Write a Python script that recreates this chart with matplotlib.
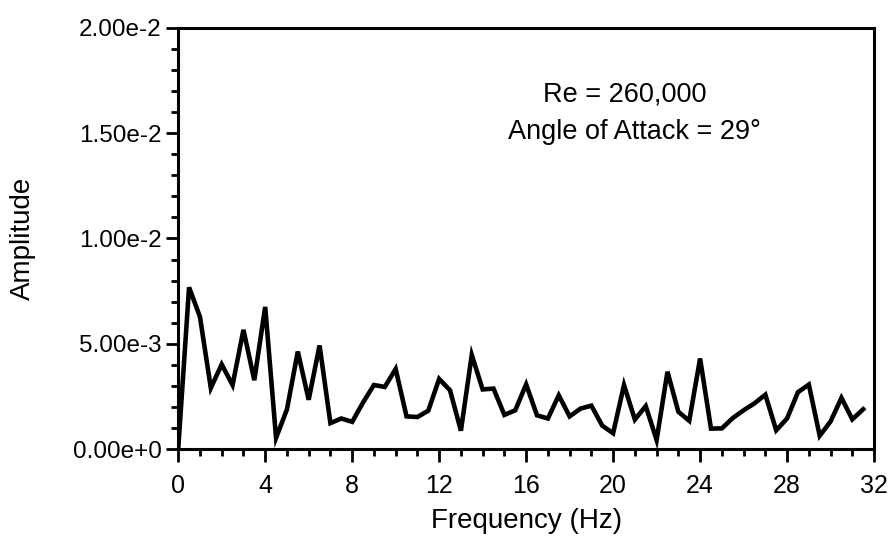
import numpy as np
import matplotlib
matplotlib.use("Agg")
import matplotlib.pyplot as plt
from matplotlib.ticker import MultipleLocator, FuncFormatter

plt.rcParams['font.family'] = ['Liberation Sans', 'DejaVu Sans']

# spectrum, 0.5 Hz bins (amplitude in units of 1e-3)
freq_step = 0.5
amp_e3 = [0.0, 7.68, 6.28, 2.90, 4.02, 3.04, 5.66, 3.27, 6.75, 0.53,
          1.88, 4.63, 2.34, 4.92, 1.23, 1.45, 1.29, 2.21, 3.04, 2.95,
          3.80, 1.55, 1.52, 1.82, 3.33, 2.79, 0.87, 4.47, 2.83, 2.87,
          1.62, 1.84, 3.07, 1.60, 1.45, 2.55, 1.55, 1.92, 2.06, 1.11,
          0.75, 3.04, 1.40, 2.04, 0.43, 3.67, 1.77, 1.34, 4.30, 0.97,
          0.98, 1.47, 1.84, 2.17, 2.58, 0.89, 1.45, 2.70, 3.06, 0.63,
          1.31, 2.43, 1.41, 1.89]

x_ticks = [0, 4, 8, 12, 16, 20, 24, 28, 32]
y_ticks = [0.0, 0.005, 0.01, 0.015, 0.02]

freq = np.arange(len(amp_e3)) * freq_step
amp = np.array(amp_e3) * 1e-3


def sci_fmt(v, pos):
    s = f"{v:.2e}"
    mant, exp = s.split("e")
    sign = exp[0]
    return f"{mant}e{sign}{int(exp[1:])}"


fig = plt.figure(figsize=(8.91, 5.44), dpi=100)
ax = fig.add_axes([0.200, 0.1746, 0.781, 0.774])

ax.plot(freq, amp, color='black', lw=3.3, solid_joinstyle='miter')

ax.set_xlim(0, 32)
ax.set_ylim(0, 0.02)
ax.set_xticks(x_ticks)
ax.set_yticks(y_ticks)
ax.xaxis.set_minor_locator(MultipleLocator(1))
ax.yaxis.set_minor_locator(MultipleLocator(0.001))
ax.yaxis.set_major_formatter(FuncFormatter(sci_fmt))

for s in ax.spines.values():
    s.set_linewidth(2.2)

ax.tick_params(which='both', direction='out', top=False, right=False, width=2)
ax.tick_params(which='major', length=9)
ax.tick_params(which='minor', length=5)
ax.tick_params(axis='x', labelsize=18, pad=9)
ax.tick_params(axis='y', labelsize=17.5, pad=3)

ax.set_xlabel('Frequency (Hz)', fontsize=20, labelpad=7)
ax.set_ylabel('Amplitude', fontsize=20)
ax.yaxis.set_label_coords(-0.205, 0.5)

ax.text(0.642, 0.841, 'Re = 260,000', transform=ax.transAxes,
        ha='center', va='center', fontsize=19.5)
ax.text(0.655, 0.753, 'Angle of Attack = 29°', transform=ax.transAxes,
        ha='center', va='center', fontsize=19.5)

fig.savefig('out.png', dpi=100)
